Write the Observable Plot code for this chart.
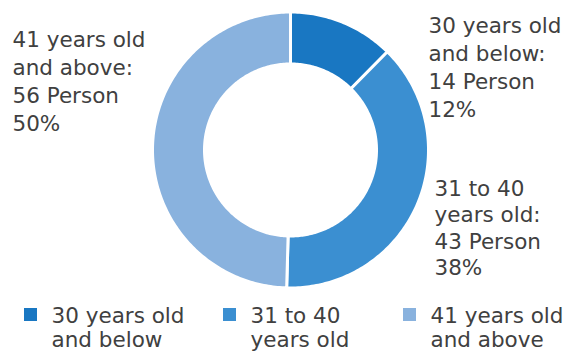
<!DOCTYPE html>
<html>
<head>
<meta charset="utf-8">
<script src="https://cdn.jsdelivr.net/npm/d3@7"></script>
<script src="https://cdn.jsdelivr.net/npm/@observablehq/plot@0.6"></script>
<style>
  html, body { margin: 0; padding: 0; background: #ffffff; }
  #chart svg { display: block; }
</style>
</head>
<body>
<div id="chart"></div>
<script>
// ---- data ----
const categories = ["30 years old\nand below", "31 to 40\nyears old", "41 years old\nand above"];
const persons = [14, 43, 56];
const colors = ["#1977c2", "#3b8fd1", "#89b2de"];

// ---- layout (not data) ----
const W = 566, H = 352;
const FS = 21.5;
const cx = 290, cy = 149.5, R = 138, r0 = 86;
const labelPos = [
  {x: 428, y: 12.5, lh: 28},   // 30 and below
  {x: 434, y: 176.5, lh: 26.5}, // 31 to 40
  {x: 12,  y: 26.5, lh: 28}    // 41 and above
];
const legendX = [24, 223, 403];
const legendTop = 305;

const total = d3.sum(persons);
const data = categories.map((c, i) => ({cat: c, value: persons[i], color: colors[i], i}));
const arcs = d3.pie().sort(null).value(d => d.value)(data);

// build slice polygons
const slicePts = [];
arcs.forEach(a => {
  const n = Math.max(8, Math.ceil((a.endAngle - a.startAngle) * 60));
  const pts = [];
  for (let k = 0; k <= n; k++) {
    const t = a.startAngle + (a.endAngle - a.startAngle) * k / n;
    pts.push({x: cx + R * Math.sin(t), y: cy - R * Math.cos(t)});
  }
  for (let k = n; k >= 0; k--) {
    const t = a.startAngle + (a.endAngle - a.startAngle) * k / n;
    pts.push({x: cx + r0 * Math.sin(t), y: cy - r0 * Math.cos(t)});
  }
  pts.push(pts[0]);
  pts.forEach(p => slicePts.push({...p, cat: a.data.cat}));
});

const labels = data.map((d, i) => ({
  x: labelPos[i].x, y: labelPos[i].y, lh: labelPos[i].lh,
  text: d.cat + ":\n" + d.value + " Person\n" + Math.round(d.value / total * 100) + "%"
}));

const legend = data.map((d, i) => ({x: legendX[i], cat: d.cat}));

const chart = Plot.plot({
  width: W, height: H,
  margin: 0,
  style: {fontFamily: "'DejaVu Sans', sans-serif", background: "#ffffff"},
  x: {domain: [0, W], range: [0, W], axis: null},
  y: {domain: [0, H], range: [0, H], axis: null},
  color: {domain: categories, range: colors},
  marks: [
    Plot.line(slicePts, {x: "x", y: "y", z: "cat", fill: "cat", stroke: "#ffffff", strokeWidth: 3, curve: "linear"}),
    ...labels.map(l => Plot.text([l], {x: "x", y: "y", text: "text", textAnchor: "start", lineAnchor: "top", lineHeight: l.lh / FS, fontSize: FS, fill: "#404040"})),
    Plot.rect(legend, {x1: "x", x2: d => d.x + 13, y1: 308, y2: 321, fill: "cat"}),
    Plot.text(legend, {x: d => d.x + 27, y: legendTop, text: "cat", textAnchor: "start", lineAnchor: "top", lineHeight: 24 / FS, fontSize: FS, fill: "#404040"})
  ]
});
document.getElementById("chart").appendChild(chart);
</script>
</body>
</html>
